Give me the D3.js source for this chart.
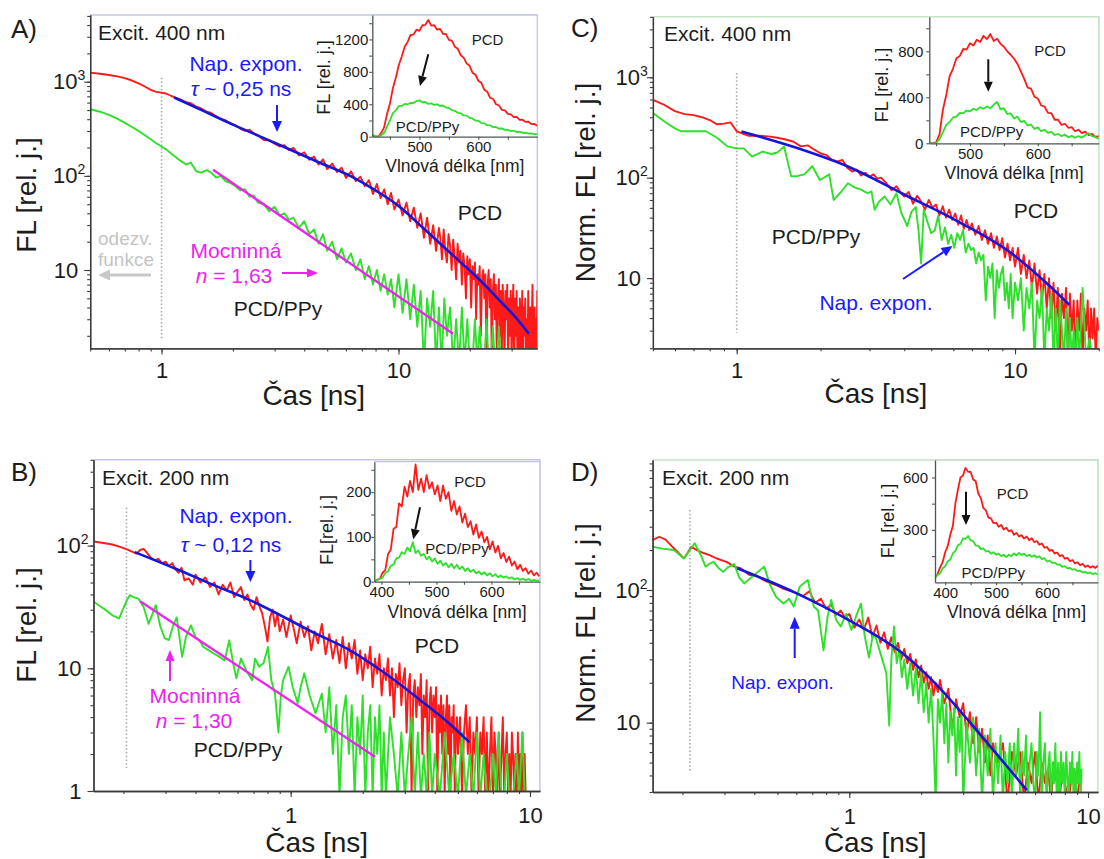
<!DOCTYPE html>
<html>
<head>
<meta charset="utf-8">
<script src="https://cdn.jsdelivr.net/npm/d3@7"></script>
<style>
  body { margin: 0; background: #fff; }
  svg { display: block; }
</style>
</head>
<body>
<svg id="fig" width="1104" height="859"></svg>
<script>
// ===================== Data =====================

// ---- Panel A: excitation 400 nm, FL decays ----
const timeA_pcd = [0.5,0.55,0.6,0.65,0.7,0.75,0.8,0.85,0.9,0.95,
  1.0,1.05,1.1,1.15,1.2,1.27,1.33,1.4,1.47,1.55,
  1.62,1.7,1.78,1.86,1.95,2.05,2.15,2.25,2.35,2.45,
  2.55,2.7,2.85,3.0,3.15,3.3,3.45,3.6,3.8,4.0,
  4.2,4.4,4.6,4.8,5.0,5.25,5.5,5.75,6.0,6.3,
  6.6,6.9,7.2,7.5,7.8,8.1,8.4,8.7,9.0,9.3,
  9.6,10,10.4,10.8,11.2,11.6,12,12.4,12.8,13.2,
  13.6,14,14.4,14.8,
  15,15.25,15.5,15.75,16,16.25,16.5,16.75,17,17.25,
  17.5,17.75,18,18.25,18.5,18.75,19,19.25,19.5,19.75,
  20,20.25,20.5,20.75,21,21.25,21.5,21.75,22,22.25,
  22.5,22.75,23,23.25,23.5,23.75,24,24.25,24.5,24.75,
  25,25.25,25.5,25.75,26,26.25,26.5,26.75,27,27.25,
  27.5,27.75,28,28.25,28.5,28.75,29,29.25,29.5,29.75,
  30,30.25,30.5,30.75,31,31.25,31.5,31.75,32,32.25,
  32.5,32.75,33,33.25,33.5,33.75,34,34.25,34.5,34.75,
  35,35.25,35.5,35.75,36,36.25,36.5,36.75,37,37.25,
  37.5,37.75,38,38.25,38.5,38.75,39,39.25,39.5,39.75,40];
const pcdA = [1250,1215,1180,1140,1090,1030,960,890,820,780,
  765,745,705,675,650,605,590,545,520,480,
  465,430,400,390,360,345,318,300,310,282,
  270,240,238,220,205,212,188,198,165,178,
  148,160,132,150,118,135,110,122,95,112,
  88,98,78,90,64,82,58,72,50,66,
  44,56,38,52,33,46,28,40,22,36,
  19,30,16,28,
  22,13,27,16,12,24,18,10,21,14,
  8,19,12,16,7,15,11,5,14,9,
  13,4,11,8,12,3,9,7,11,2,
  8,10,5,9,1,7,10,4,8,1,
  6,9,3,7,1,5,8,2,6,1,
  7,4,1,6,3,7,1,5,2,6,
  1,4,7,1,5,2,6,1,4,1,
  5,3,1,6,1,4,2,5,1,3,
  1,6,2,1,4,1,3,7,1,2,
  4,1,3,1,6,1,2,1,5,1,2];
const timeA_ppy = [0.5,0.55,0.6,0.65,0.7,0.75,0.8,0.85,0.9,0.95,
  1.0,1.05,1.1,1.15,1.2,1.27,1.33,1.4,1.47,1.55,
  1.62,1.7,1.78,1.86,1.95,2.05,2.15,2.25,2.35,2.45,
  2.55,2.7,2.85,3.0,3.15,3.3,3.45,3.6,3.8,4.0,
  4.2,4.4,4.6,4.8,5.0,5.25,5.5,5.75,6.0,6.3,
  6.6,6.9,7.2,7.5,7.8,8.1,8.4,8.7,9.0,9.3,
  9.6,10,10.4,10.8,11.2,11.6,12,12.4,12.8,13.2,
  13.6,14,14.4,14.8,15.2,15.6,16,16.5,17,17.5,
  18,18.5,19,19.5,20,20.5,21,21.5,22,22.5,
  23,23.5,24,24.5,25,25.5,26,26.5,27,27.5,
  28,29,30,32,34,36,38,40];
const ppyA = [510,480,445,405,365,330,300,270,245,222,
  205,190,172,158,145,132,138,112,108,115,
  108,96,100,88,84,78,70,72,60,62,
  52,50,42,47,38,40,34,36,28,33,
  24,27,19,24,16,20,13,17,12,15,
  10,13,8,11,7,10,6,9,5.5,8,
  4,9,3.5,8,3,7,2.5,6,1,5,
  2.5,6,1,4,1,5,2,4,1,3,
  1,4,1,3,1,1,3,1,2.5,1,
  1,3,1,1,2.5,1,1,2.5,1,1,
  1,1,1,1,1,1,1,1];
const expFitA_t = [1.13,1.5,2,3,4.5,6.4,8,10,12.5,15,18,21,24,27,31,35.5];
const expFitA_v = [680,490,350,225,143,97,70,48,29,19,12.5,8.8,6.3,4.6,3.2,2.1];
const powFitA_t = [1.65, 17];
const powFitA_v = [116, 2.1];

// ---- Panel C: excitation 400 nm, normalised FL decays ----
const timeC_pcd = [0.5,0.55,0.6,0.65,0.7,0.75,0.8,0.85,0.9,0.95,
  1.0,1.05,1.1,1.2,1.3,1.4,1.5,1.6,1.7,1.8,
  1.9,2.0,2.1,2.2,2.3,2.4,2.5,2.6,2.7,2.8,
  2.9,3.0,3.1,3.2,3.3,3.45,3.6,3.75,3.9,4.0,
  4.15,4.3,4.45,4.6,4.75,4.9,5.05,5.2,5.35,5.5,
  5.65,5.8,5.95,6.1,6.25,6.4,6.55,6.7,6.85,7.0,
  7.2,7.4,7.6,7.8,8.0,8.2,8.4,8.6,8.8,9.0,
  9.2,9.4,9.6,9.8,10,10.25,10.5,10.75,11,11.25,
  11.5,11.75,12,12.25,12.5,12.75,13,13.25,13.5,13.75,
  14,14.25,14.5,14.75,15,15.25,15.5,15.75,16,16.25,
  16.5,16.75,17,17.25,17.5,17.75,18,18.25,18.5,18.75,
  19,19.25,19.5,19.75,20];
const pcdC = [595,530,460,430,420,400,375,340,345,355,
  290,275,262,262,258,250,240,228,205,210,
  190,175,168,150,145,150,125,115,120,105,
  112,102,108,98,100,88,75,82,70,65,
  72,55,66,58,48,60,50,54,42,52,
  40,48,38,44,34,42,31,38,30,35,
  27,33,24,30,22,28,20,26,19,25,
  16,22,15,20,13,20,11,17,10,15,
  8,14,7,12,6,11,5,10,4,9,
  3,8,1.5,7,4,8,1.5,7,3,6,
  1.5,6,3,7,1.5,5,3,6,1.5,5,
  2.5,5,1.5,4,3];
const timeC_ppy = [0.5,0.53,0.56,0.6,0.63,0.7,0.775,0.85,0.925,1.0,
  1.06,1.135,1.24,1.33,1.4,1.48,1.57,1.65,1.75,1.87,
  1.99,2.07,2.15,2.23,2.37,2.51,2.65,2.8,2.95,3.05,
  3.13,3.25,3.4,3.57,3.75,3.9,4.1,4.25,4.4,4.5,
  4.6,4.7,4.85,5.0,5.15,5.3,5.45,5.6,5.75,5.9,
  6.05,6.2,6.35,6.5,6.65,6.8,6.95,7.1,7.25,7.4,
  7.55,7.7,7.85,8.0,8.15,8.3,8.45,8.6,8.75,8.9,
  9.05,9.2,9.35,9.5,9.65,9.8,10,10.25,10.5,10.75,
  11,11.25,11.5,11.75,12,12.25,12.5,12.75,13,13.25,
  13.5,13.75,14,14.25,14.5,14.75,15,15.25,15.5,15.75,
  16,16.25,16.5,16.75,17,17.5,18,18.5,19,20];
const ppyC = [440,390,350,310,290,290,290,250,205,196,
  196,162,182,172,178,204,103,104,108,130,
  95,101,108,60,72,88,80,76,70,73,
  48,58,65,54,70,45,33,46,51,30,
  14,48,36,28,30,42,24,32,22,27,
  20,28,24,30,18,22,19,20,14,18,
  15,17,6,13,10,14,4,12,8,11,
  13,6,9,5,11,4,9,6,10,3,
  8,5,9,1.5,6,4,8,1.5,5,3,
  7,1.5,5,1.5,6,3,1.5,5,1.5,4,
  1.5,3,1.5,4,1.5,8,1.5,2.5,1.5,1.5];
const expFitC_t = [1.04,1.66,2.58,4.0,6.2,9.7,13,15.7];
const expFitC_v = [288,196,125,68,37,17.7,8.9,5.4];

// ---- Panel B: excitation 200 nm, FL decays ----
const timeB_pcd = [0.15,0.165,0.18,0.195,0.207,0.215,0.227,0.235,0.243,0.25,
  0.26,0.27,0.28,0.29,0.3,0.31,0.32,0.33,0.34,0.35,
  0.36,0.375,0.39,0.4,0.42,0.44,0.46,0.48,0.5,0.52,
  0.54,0.56,0.58,0.6,0.62,0.64,0.66,0.68,0.7,0.72,
  0.74,0.76,0.78,0.8,0.82,0.84,0.86,0.88,0.9,0.93,
  0.96,1.0,1.03,1.06,1.1,1.14,1.18,1.22,1.26,1.3,
  1.35,1.4,1.45,1.5,1.55,1.6,1.65,1.7,1.75,1.8,
  1.85,1.9,1.95,2.0,2.05,2.1,2.15,2.2,2.25,2.3,
  2.35,2.4,2.45,
  2.5,2.55,2.6,2.65,2.7,2.75,2.8,2.85,2.9,2.95,
  3.0,3.05,3.1,3.15,3.2,3.25,3.3,3.35,3.4,3.45,
  3.5,3.55,3.6,3.65,3.7,3.75,3.8,3.85,3.9,3.95,
  4.0,4.05,4.1,4.15,4.2,4.25,4.3,4.35,4.4,4.45,
  4.5,4.55,4.6,4.65,4.7,4.75,4.8,4.85,4.9,4.95,5.0,
  5.1,5.2,5.3,5.4,5.5,5.6,5.7,5.8,5.9,6.0,
  6.1,6.2,6.3,6.4,6.5,6.6,6.7,6.8,6.9,7.0,
  7.1,7.2,7.3,7.4,7.5,7.6,7.7,7.8,7.9,8.0,
  8.1,8.2,8.3,8.4,8.5,8.6,8.7,8.8,8.9,9.0,
  9.1,9.2,9.3,9.4,9.5,9.6];
const pcdB = [108,105,102,97,93,90,86,92,94,88,
  80,76,78,72,74,68,72,64,60,66,
  52,54,48,58,50,55,46,50,40,48,
  43,50,38,42,46,36,40,33,30,38,
  32,28,22,16.5,26,30,22,28,20,25,
  18,27,21,16,24,18,22,14,20,16,
  23,13,19,12,17,11,18,10,16,12,
  17,9,14,8,13,10,15,7,12,9,
  13,6,10,
  8,12,6,10,4,9,7,11,5,8,
  10,3,7,9,0.9,6,8,4,7,5,
  9,2,6,4,8,0.9,5,7,3,6,
  4,7,0.9,5,3,6,2,5,0.9,4,
  6,2,5,0.9,4,3,5,0.9,3,4,2,
  4,0.9,3,5,2,4,0.9,3,2,4,
  0.9,3,2,4,0.9,3,0.9,2,4,0.9,
  3,2,0.9,3,0.9,2,4,0.9,2,3,
  0.9,2,0.9,3,2,0.9,2,0.9,3,0.9,
  2,0.9,3,0.9,2,0.9];
const timeB_ppy = [0.15,0.16,0.168,0.18,0.192,0.2,0.207,0.213,0.22,0.231,
  0.243,0.255,0.265,0.273,0.285,0.298,0.31,0.322,0.334,0.352,
  0.365,0.383,0.4,0.415,0.431,0.455,0.477,0.5,0.53,0.554,
  0.575,0.593,0.62,0.656,0.69,0.71,0.738,0.77,0.804,0.83,
  0.86,0.889,0.91,0.93,0.98,1.02,1.07,1.1,1.14,1.2,
  1.27,1.35,1.4,1.45,1.5,1.55,1.6,1.65,1.7,1.75,
  1.8,1.85,1.9,1.95,2.0,2.05,2.1,2.15,2.2,2.25,
  2.3,2.35,2.4,2.45,2.5,2.6,2.7,2.8,2.9,3.0,
  3.1,3.2,3.3,3.4,3.5,3.6,3.7,3.8,3.9,4.0,
  4.2,4.4,4.6,4.8,5.0,5.2,5.4,5.6,5.8,6.0,
  6.2,6.4,6.6,6.8,7.0,7.2,7.4,7.6,7.8,8.0,
  8.2,8.5,8.8,9.0,9.3,9.5];
const ppyB = [35,32,30,27,25.5,31,36,39.5,38,37,
  31.6,23,28,32.7,22,17.5,17,22,26,12.4,
  18,22.4,18,17,15,14,13.2,12.5,11.6,16.9,
  11,8.3,12,9.4,8,12,10.3,11,14.9,8,
  6.2,3,6,8,10.3,7,5.2,7,9.1,6,
  4.3,6.2,3,7,2,5,0.9,4,6,2,
  5,0.9,4,2,6,0.9,3,5,0.9,4,
  2,5,0.9,3,0.9,4,2,0.9,3,0.9,
  2,4,0.9,3,0.9,2,0.9,3,0.9,2,
  0.9,3,0.9,2,0.9,3,0.9,2,0.9,3,
  0.9,2,0.9,0.9,2,0.9,3,0.9,0.9,2,
  0.9,0.9,2,0.9,3,0.9];
const expFitB_t = [0.223,0.329,0.461,0.679,1.27,1.77,2.48,3.48,4.56,5.58];
const expFitB_v = [88.5,65,49,35.8,19.2,14,9.1,5.5,3.6,2.5];
const powFitB_t = [0.235, 2.25];
const powFitB_v = [35.2, 1.9];

// ---- Panel D: excitation 200 nm, normalised FL decays ----
const timeD_pcd = [0.15,0.16,0.17,0.18,0.19,0.203,0.21,0.218,0.23,0.245,
  0.258,0.28,0.306,0.33,0.351,0.38,0.41,0.44,0.47,0.5,
  0.53,0.56,0.6,0.64,0.68,0.72,0.76,0.8,0.84,0.88,
  0.92,0.96,1.0,1.05,1.1,1.15,1.2,1.25,1.3,1.35,
  1.4,1.45,1.5,1.55,1.6,1.65,1.7,1.75,1.8,1.85,
  1.9,1.95,2.0,2.05,2.1,2.15,2.2,2.25,2.3,2.35,
  2.4,2.5,2.6,2.7,2.8,2.9,3.0,3.1,3.2,3.3,
  3.4,3.5,3.6,3.7,3.8,3.9,4.0,4.2,4.4,4.6,
  4.8,5.0,5.2,5.4,5.6,5.8,6.0,6.2,6.4,6.6,
  6.8,7.0,7.2,7.4,7.6,7.8,8.0,8.3,8.6,8.9,
  9.2];
const pcdD = [238,252,240,215,195,173,190,212,200,190,
  184,172,163,150,146,130,128,118,112,108,
  102,99,95,90,98,80,86,72,78,65,
  70,62,66,52,60,50,62,44,54,40,
  48,36,44,34,40,30,36,28,33,25,
  30,22,27,20,24,18,22,16,20,17,
  21,14,18,9,15,11,14,8,12,7,
  11,6,9,5,8,4,7,5,7,2.5,
  6,4,6,2.5,5,3.5,6,2.5,5,3.5,
  4.5,2.5,5,3.5,2.5,4.5,3.5,2.5,4.5,2.5,
  3.5];
const timeD_ppy = [0.15,0.165,0.184,0.203,0.215,0.225,0.24,0.25,0.26,0.27,
  0.285,0.296,0.31,0.33,0.345,0.363,0.38,0.4,0.42,0.44,
  0.465,0.493,0.53,0.56,0.585,0.62,0.67,0.71,0.74,0.78,
  0.81,0.84,0.88,0.92,0.97,1.02,1.07,1.12,1.16,1.21,
  1.26,1.3,1.36,1.43,1.47,1.5,1.54,1.58,1.62,1.66,
  1.7,1.75,1.8,1.85,1.9,1.95,2.0,2.05,2.1,2.15,
  2.2,2.25,2.3,2.35,2.4,2.45,2.5,2.55,2.6,2.65,
  2.7,2.75,2.8,2.85,2.9,2.95,3.0,3.1,3.2,3.3,
  3.4,3.5,3.6,3.7,3.8,3.9,4.0,4.1,4.2,4.3,
  4.4,4.5,4.6,4.7,
  4.8,4.9,5.0,5.1,5.2,5.3,5.4,5.5,5.6,5.7,
  5.8,5.9,6.0,6.1,6.2,6.3,6.4,6.5,6.6,6.7,
  6.8,6.9,7.0,7.1,7.2,7.3,7.4,7.5,7.6,7.7,
  7.8,7.9,8.0,8.1,8.2,8.3,8.4,8.5,8.6,8.7,
  8.8,8.9,9.0,9.1,9.2,9.3,9.4];
const ppyD = [212,205,200,173,200,225,180,150,158,163,
  145,137,148,157,125,112,120,130,140,150,
  110,89,79,86,75,106,119,75,70,35,
  62,84,60,53,66,50,64,79,45,31,
  48,42,32,23.6,9.5,30,53,28,36,22,
  30,18,28,16,26,14,24,12,20,10,
  18,8,2.5,15,10,17,7,14,5,12,
  8,13,4,11,6,12,2.5,10,5,11,
  4,9,2.5,8,4,9,2.5,7,3.5,8,
  2.5,6,3.5,7,
  2.5,7,4,9,2.5,6,4,8,2.5,5,
  7,3.5,2.5,6,4,12,2.5,5,7,2.5,
  4.5,6,2.5,5,3.5,7,2.5,5,2.5,6,
  3.5,5,2.5,6,4,2.5,5,3.5,6,2.5,
  4.5,2.5,5,3.5,6,2.5,4.5];
const expFitD_t = [0.339,0.605,1.0,1.68,2.36,3.32,4.36,5.54];
const expFitD_v = [146,94,59,33,18.7,9.3,5.2,3.1];

// ---- Emission spectra (insets), sampled every 5 nm ----
const specA_start = 420;
const specA_pcd = [20,6,0,45,115,280,410,600,730,885,990,1110,1170,1255,1260,1320,1305,1375,1380,1440,
  1370,1375,1320,1330,1270,1265,1195,1185,1110,1085,1005,975,905,875,790,765,690,665,580,555,
  480,465,400,385,330,325,282,275,242,245,208,210,182,185,155,158,135];
const specA_ppy = [20,4,0,18,48,125,200,290,325,380,380,405,398,418,415,440,448,425,428,405,
  412,392,400,380,385,360,355,328,320,295,290,262,260,232,225,198,195,168,165,142,
  140,118,120,98,103,84,86,70,74,58,62,47,51,38,42,30,33];
const specC_start = 440;
const specC_pcd = [0,0,8,75,290,420,585,650,740,760,820,815,870,850,900,880,935,905,950,890,
  910,865,840,800,770,735,690,625,560,485,475,405,390,330,320,265,262,205,205,160,
  170,135,140,105,118,88,102,70,82,55,62];
const specC_ppy = [0,0,2,35,95,160,185,225,232,265,262,285,278,300,290,315,300,320,305,335,
  360,295,305,255,260,215,232,185,195,155,162,125,138,105,118,90,100,72,82,62,
  75,52,66,48,62,50,70,88,62,55,38];
const specB_start = 387;
const specB_pcd = [0,4,6,20,26,62,72,118,122,175,168,212,190,225,200,262,205,230,200,238,
  208,222,195,215,180,215,185,200,158,180,150,168,132,152,122,135,105,128,98,112,
  88,100,72,90,65,80,52,64,44,56,36,45,28,38,24,30,18,25,14,20,12];
const specB_ppy = [0,3,7,9,20,23,36,38,52,54,66,62,76,68,88,64,70,58,62,50,
  56,45,52,40,47,36,42,32,40,30,38,28,34,24,30,22,27,19,23,16,
  21,14,19,12,17,10,14,9,12,7,10,5,8,4,7,3,6,2,4,2,3];
const specD_start = 380;
const specD_pcd = [25,48,85,115,172,208,272,322,450,530,600,612,655,632,632,588,578,508,482,425,
  412,370,366,338,342,318,328,302,312,292,298,272,283,262,270,250,262,240,252,230,
  236,215,222,198,202,180,186,165,170,150,156,135,140,120,128,108,114,98,106,88,
  96,84,92,82,96];
const specD_ppy = [25,42,52,80,92,120,130,165,180,212,220,252,248,265,240,236,210,210,190,194,
  176,180,164,172,158,164,150,158,145,158,150,165,154,168,156,164,150,158,146,155,
  142,149,133,138,119,124,111,113,101,102,89,92,80,82,72,75,64,67,56,60,
  51,56,47,52,45];
const specStep = 5;

// Axis tick values
const decayTicksX = [1, 10];
const ticksYA = [10, 100, 1000];
const ticksYB = [1, 10, 100];
const ticksYC = [10, 100, 1000];
const ticksYD = [10, 100];

// ===================== Drawing =====================
const svg = d3.select("#fig");
const FONT = '"Liberation Sans", Arial, Helvetica, sans-serif';
const RED = "#ff1a1a", GREEN = "#2ee02a", BLUE = "#1616d8", MAGENTA = "#ee22ee";
const INK = "#1c1c1c", AXIS = "#3a3a3a";

let clipId = 0;
function clipRect(x0, y0, x1, y1) {
  const id = "clip" + (clipId++);
  svg.append("clipPath").attr("id", id).append("rect")
    .attr("x", x0).attr("y", y0).attr("width", x1 - x0).attr("height", y1 - y0);
  return `url(#${id})`;
}

function styleAxis(sel, size, col) {
  sel.attr("font-family", FONT).attr("font-size", size);
  sel.select(".domain").attr("stroke", col || AXIS).attr("stroke-width", 1.3);
  sel.selectAll(".tick line").attr("stroke", col || AXIS).attr("stroke-width", 1.1);
  sel.selectAll(".tick text").attr("fill", INK);
}

function logMinors(dom) {
  const out = [];
  for (let k = Math.floor(Math.log10(dom[0])); k <= Math.ceil(Math.log10(dom[1])); k++) {
    for (let m = 1; m <= 9; m++) {
      const v = m * Math.pow(10, k);
      if (v >= dom[0] * 0.999 && v <= dom[1] * 1.001) out.push(v);
    }
  }
  return out;
}

function text(x, y, str, o = {}) {
  const t = svg.append("text").attr("x", x).attr("y", y)
    .attr("font-family", FONT).attr("font-size", o.size || 21)
    .attr("fill", o.color || INK).attr("text-anchor", o.anchor || "start");
  if (Array.isArray(str)) {
    str.forEach(s => t.append("tspan").attr("font-style", s.italic ? "italic" : null).text(s.t));
  } else t.text(str);
  return t;
}

function vtext(cx, cy, str, size) {
  svg.append("text").attr("transform", `translate(${cx},${cy}) rotate(-90)`)
    .attr("text-anchor", "middle").attr("dy", "0.35em")
    .attr("font-family", FONT).attr("font-size", size).attr("fill", INK).text(str);
}

function arrow(x1, y1, x2, y2, color, w, headL, headW) {
  const a = Math.atan2(y2 - y1, x2 - x1);
  const bx = x2 - headL * Math.cos(a), by = y2 - headL * Math.sin(a);
  svg.append("line").attr("x1", x1).attr("y1", y1).attr("x2", bx).attr("y2", by)
    .attr("stroke", color).attr("stroke-width", w);
  const px = -Math.sin(a) * headW / 2, py = Math.cos(a) * headW / 2;
  svg.append("path")
    .attr("d", `M${x2},${y2}L${bx + px},${by + py}L${bx - px},${by - py}Z`)
    .attr("fill", color);
}

function decayPanel(p) {
  const x = d3.scaleLog().domain(p.xDom).range(p.xRange);
  const y = d3.scaleLog().domain(p.yDom).range(p.yRange);
  const [x0, x1] = p.xRange, [yb, yt] = p.yRange;
  const g = svg.append("g");

  g.append("path").attr("d", `M${x0},${yt}H${x1}V${yb}`)
    .attr("fill", "none").attr("stroke", p.frame).attr("stroke-width", 1.5);

  g.append("line").attr("x1", x(p.irf[0])).attr("x2", x(p.irf[0]))
    .attr("y1", y(p.irf[1])).attr("y2", y(p.irf[2]))
    .attr("stroke", "#a9a9a9").attr("stroke-width", 1.6).attr("stroke-dasharray", "1.5,2.2");

  const line = d3.line().x(d => x(d[0])).y(d => y(d[1]));
  const smooth = d3.line().curve(d3.curveMonotoneX).x(d => x(d[0])).y(d => y(d[1]));
  const plot = g.append("g").attr("clip-path", clipRect(x0, yt, x1, yb));
  plot.append("path").datum(d3.zip(p.pcd[0], p.pcd[1])).attr("d", line)
    .attr("fill", "none").attr("stroke", RED).attr("stroke-width", 1.9).attr("stroke-linejoin", "round");
  plot.append("path").datum(d3.zip(p.ppy[0], p.ppy[1])).attr("d", line)
    .attr("fill", "none").attr("stroke", GREEN).attr("stroke-width", 1.9).attr("stroke-linejoin", "round");
  if (p.pow) plot.append("path").datum(d3.zip(p.pow[0], p.pow[1])).attr("d", smooth)
    .attr("fill", "none").attr("stroke", MAGENTA).attr("stroke-width", 2.3);
  plot.append("path").datum(d3.zip(p.exp[0], p.exp[1])).attr("d", smooth)
    .attr("fill", "none").attr("stroke", BLUE).attr("stroke-width", 2.6);

  // x axis: minor and major ticks
  const xm = g.append("g").attr("transform", `translate(0,${yb})`)
    .call(d3.axisBottom(x).tickValues(logMinors(p.xDom)).tickFormat("").tickSize(3).tickSizeOuter(0));
  styleAxis(xm, 22);
  const xM = g.append("g").attr("transform", `translate(0,${yb})`)
    .call(d3.axisBottom(x).tickValues(decayTicksX).tickFormat(d3.format("~g"))
      .tickSize(6).tickPadding(p.xPad).tickSizeOuter(0));
  styleAxis(xM, 22);

  // y axis: minor and major ticks, powers of ten with superscripts
  const ym = g.append("g").attr("transform", `translate(${x0},0)`)
    .call(d3.axisLeft(y).tickValues(logMinors(p.yDom)).tickFormat("").tickSize(3).tickSizeOuter(0));
  styleAxis(ym, 22);
  const yM = g.append("g").attr("transform", `translate(${x0},0)`)
    .call(d3.axisLeft(y).tickValues(p.yTicks).tickFormat(d3.format("~g")).tickSize(6).tickSizeOuter(0));
  styleAxis(yM, 22);
  yM.selectAll(".tick text").each(function (d) {
    const t = d3.select(this);
    const e = Math.round(Math.log10(d));
    if (e >= 2) {
      t.text("10").attr("x", -5);
      t.append("tspan").attr("font-size", 14).attr("dy", -9).text(e);
    } else {
      t.attr("x", -12);
    }
  });

  vtext(p.yTitle[0], p.yTitle[1], p.yTitle[2], 28);
  text((x0 + x1) / 2, p.xTitleY, "Čas [ns]", { size: 28, anchor: "middle" });
  text(p.letter[0], p.letter[1], p.letter[2], { size: 26 });
}

function insetPanel(s) {
  const x = d3.scaleLinear().domain(s.xDom).range(s.xRange);
  const y = d3.scaleLinear().domain(s.yDom).range(s.yRange);
  const [x0, x1] = s.xRange, [yb, yt] = s.yRange;
  const g = svg.append("g");
  g.append("rect").attr("x", x0).attr("y", yt).attr("width", x1 - x0).attr("height", yb - yt).attr("fill", "#fff");
  g.append("path").attr("d", `M${x0},${yt}H${x1}V${yb}`)
    .attr("fill", "none").attr("stroke", s.frame).attr("stroke-width", 1.3);

  const wl = s.pcd.map((_, i) => s.start + i * specStep);
  const line = d3.line().x(d => x(d[0])).y(d => y(d[1]));
  const plot = g.append("g").attr("clip-path", clipRect(x0, yt, x1, yb));
  plot.append("path").datum(d3.zip(wl, s.pcd)).attr("d", line)
    .attr("fill", "none").attr("stroke", RED).attr("stroke-width", 1.8).attr("stroke-linejoin", "round");
  plot.append("path").datum(d3.zip(wl, s.ppy)).attr("d", line)
    .attr("fill", "none").attr("stroke", GREEN).attr("stroke-width", 1.8).attr("stroke-linejoin", "round");

  const xa = g.append("g").attr("transform", `translate(0,${yb})`)
    .call(d3.axisBottom(x).tickValues([...s.xTicks, ...s.xMinor]).tickFormat(d => s.xTicks.includes(d) ? d : "")
      .tickSize(3).tickPadding(2).tickSizeOuter(0));
  styleAxis(xa, 15, "#4b5752");
  const ya = g.append("g").attr("transform", `translate(${x0},0)`)
    .call(d3.axisLeft(y).tickValues([...s.yTicks, ...s.yMinor]).tickFormat(d => s.yTicks.includes(d) ? d : "")
      .tickSize(3).tickPadding(s.yPad).tickSizeOuter(0));
  styleAxis(ya, 15, "#4b5752");

  vtext(s.yTitle[0], s.yTitle[1], s.yTitle[2], 18);
  text((x0 + x1) / 2, s.xTitleY, "Vlnová délka [nm]", { size: 17.5, anchor: "middle" });
  text(s.lblPcd[0], s.lblPcd[1], "PCD", { size: 15, anchor: "middle" });
  text(s.lblPpy[0], s.lblPpy[1], "PCD/PPy", { size: 15, anchor: "middle" });
  arrow(s.arrow[0], s.arrow[1], s.arrow[2], s.arrow[3], "#111", 2, 10, 9);
}

// ---------- Panel A ----------
decayPanel({
  xDom: [0.5, 38.5], xRange: [90.2, 537.3],
  yDom: [1.47, 5100], yRange: [348.4, 15.1],
  frame: "#c5c5e8", irf: [1, 1100, 1.8],
  pcd: [timeA_pcd, pcdA], ppy: [timeA_ppy, ppyA],
  exp: [expFitA_t, expFitA_v], pow: [powFitA_t, powFitA_v],
  yTicks: ticksYA, xPad: 8, xTitleY: 405,
  yTitle: [26, 195, "FL [rel. j.]"], letter: [11, 38, "A)"]
});
text(98, 40, "Excit. 400 nm");
text(246, 71, "Nap. expon.", { color: "#1a1aff", anchor: "middle" });
text(241, 96, [{ t: "τ", italic: true }, { t: " ~ 0,25 ns" }], { color: "#1a1aff", anchor: "middle" });
arrow(277, 105, 277, 132, "#1a1aff", 2, 11, 10);
text(480, 220, "PCD", { anchor: "middle" });
text(98, 245, "odezv.", { size: 19, color: "#c4c4c4" });
text(98, 266, "funkce", { size: 19, color: "#c4c4c4" });
arrow(151, 275, 98, 275, "#c8c8c8", 3, 12, 11);
text(236, 258, "Mocninná", { color: MAGENTA, anchor: "middle" });
text(234, 283, [{ t: "n", italic: true }, { t: " = 1,63" }], { color: MAGENTA, anchor: "middle" });
arrow(282, 273, 318, 273, MAGENTA, 2, 11, 9);
text(278, 316, "PCD/PPy", { anchor: "middle" });

insetPanel({
  xDom: [420, 700], xRange: [372.3, 537.3], yDom: [0, 1500], yRange: [136.7, 15.1],
  frame: "#c2c6e4", start: specA_start, pcd: specA_pcd, ppy: specA_ppy,
  xTicks: [500, 600], xMinor: [450, 550, 650], yTicks: [0, 400, 800, 1200], yMinor: [200, 600, 1000, 1400],
  yPad: 1, yTitle: [323.5, 77.5, "FL [rel. j.]"], xTitleY: 171.5,
  lblPcd: [487.5, 45], lblPpy: [427.5, 132], arrow: [428.3, 54.3, 420, 86]
});

// ---------- Panel C ----------
decayPanel({
  xDom: [0.5, 20], xRange: [652.9, 1098.8],
  yDom: [2, 4000], yRange: [348.3, 16.8],
  frame: "#c5e4c5", irf: [1, 1104, 2.85],
  pcd: [timeC_pcd, pcdC], ppy: [timeC_ppy, ppyC],
  exp: [expFitC_t, expFitC_v], pow: null,
  yTicks: ticksYC, xPad: 8, xTitleY: 403,
  yTitle: [585, 182.5, "Norm. FL [rel. j.]"], letter: [571, 37, "C)"]
});
text(664, 41, "Excit. 400 nm");
text(816, 244, "PCD/PPy", { anchor: "middle" });
text(1036, 218, "PCD", { anchor: "middle" });
text(876, 310, "Nap. expon.", { color: "#1a1aff", anchor: "middle" });
arrow(903, 279, 952.5, 246, "#1a1aff", 2, 11, 10);

insetPanel({
  xDom: [440, 690], xRange: [929.3, 1098.8], yDom: [0, 1100], yRange: [143.3, 16.8],
  frame: "#c2e0c4", start: specC_start, pcd: specC_pcd, ppy: specC_ppy,
  xTicks: [500, 600], xMinor: [450, 550, 650], yTicks: [0, 400, 800], yMinor: [200, 600, 1000],
  yPad: 3, yTitle: [882, 85, "FL [rel. j.]"], xTitleY: 178.5,
  lblPcd: [1050, 56], lblPpy: [991.7, 137], arrow: [988.3, 59.3, 988.3, 91.7]
});

// ---------- Panel B ----------
decayPanel({
  xDom: [0.15, 11], xRange: [93.5, 539.9],
  yDom: [1, 500], yRange: [791, 459.8],
  frame: "#c5c5e8", irf: [0.206, 203, 1.54],
  pcd: [timeB_pcd, pcdB], ppy: [timeB_ppy, ppyB],
  exp: [expFitB_t, expFitB_v], pow: [powFitB_t, powFitB_v],
  yTicks: ticksYB, xPad: 10, xTitleY: 852,
  yTitle: [26, 625, "FL [rel. j.]"], letter: [11, 481, "B)"]
});
text(102, 485, "Excit. 200 nm");
text(236, 523, "Nap. expon.", { color: "#1a1aff", anchor: "middle" });
text(231, 552, [{ t: "τ", italic: true }, { t: " ~ 0,12 ns" }], { color: "#1a1aff", anchor: "middle" });
arrow(250.4, 560, 250.4, 582, "#1a1aff", 2, 11, 10);
text(437, 653, "PCD", { anchor: "middle" });
arrow(170, 681, 170, 650, MAGENTA, 2, 11, 9);
text(195, 703, "Mocninná", { color: MAGENTA, anchor: "middle" });
text(194, 728, [{ t: "n", italic: true }, { t: " = 1,30" }], { color: MAGENTA, anchor: "middle" });
text(238, 757, "PCD/PPy", { anchor: "middle" });

insetPanel({
  xDom: [387, 688], xRange: [374.3, 539.9], yDom: [0, 268], yRange: [581.7, 461.7],
  frame: "#c2c6e4", start: specB_start, pcd: specB_pcd, ppy: specB_ppy,
  xTicks: [400, 500, 600], xMinor: [450, 550, 650], yTicks: [0, 100, 200], yMinor: [50, 150, 250],
  yPad: 0, yTitle: [327, 530, "FL[rel. j.]"], xTitleY: 617.5,
  lblPcd: [470, 487], lblPpy: [457, 554], arrow: [420, 507.3, 413.3, 539.3]
});

// ---------- Panel D ----------
decayPanel({
  xDom: [0.15, 11], xRange: [652.6, 1097.9],
  yDom: [3, 955], yRange: [792, 460],
  frame: "#c5e4c5", irf: [0.215, 401, 4.27],
  pcd: [timeD_pcd, pcdD], ppy: [timeD_ppy, ppyD],
  exp: [expFitD_t, expFitD_v], pow: null,
  yTicks: ticksYD, xPad: 10, xTitleY: 852,
  yTitle: [585, 623, "Norm. FL [rel. j.]"], letter: [571, 481, "D)"]
});
text(662, 485, "Excit. 200 nm");
arrow(794.7, 658, 794.7, 616.7, "#1a1aff", 2, 12, 10);
text(782.5, 689, "Nap. expon.", { size: 19, color: "#1a1aff", anchor: "middle" });

insetPanel({
  xDom: [380, 700], xRange: [935, 1097.9], yDom: [0, 700], yRange: [582.3, 460],
  frame: "#c2e0c4", start: specD_start, pcd: specD_pcd, ppy: specD_ppy,
  xTicks: [400, 500, 600], xMinor: [450, 550, 650], yTicks: [300, 600], yMinor: [150, 450],
  yPad: 4, yTitle: [887.5, 521, "FL [rel. j.]"], xTitleY: 617.5,
  lblPcd: [1012.5, 499], lblPpy: [993.3, 577.7], arrow: [966, 491.7, 966, 525]
});
</script>
</body>
</html>
